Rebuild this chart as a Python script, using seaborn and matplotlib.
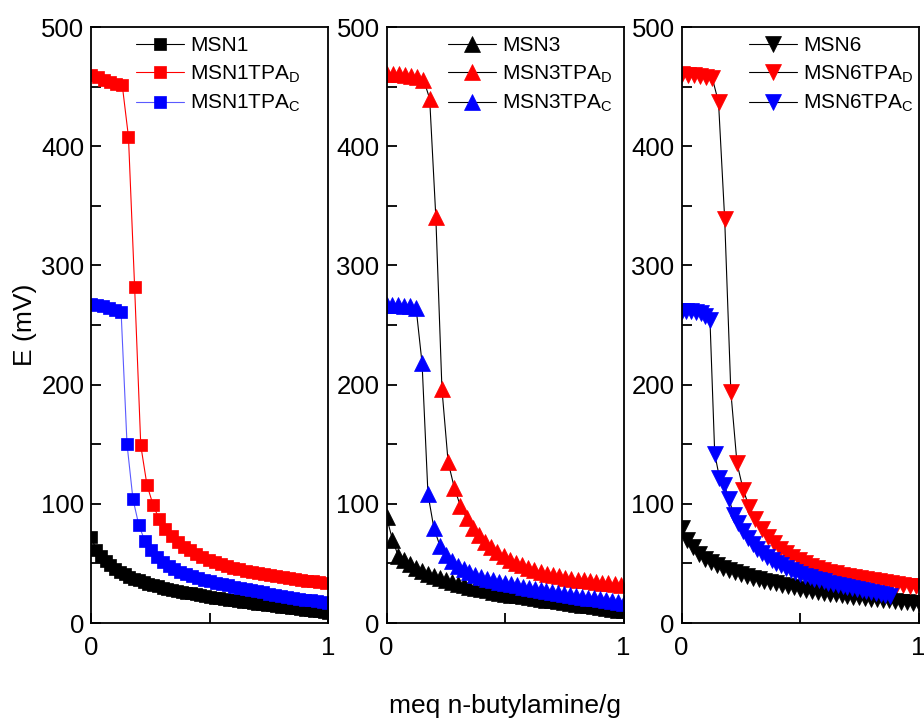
import matplotlib
matplotlib.use("Agg")
import matplotlib.pyplot as plt
from matplotlib.ticker import MultipleLocator
import seaborn as sns

# titrant added (meq n-butylamine/g) at the three increments used
X_020 = [0.00, 0.02, 0.04, 0.06, 0.08, 0.10, 0.12, 0.14, 0.16, 0.18,
         0.20, 0.22, 0.24, 0.26, 0.28, 0.30, 0.32, 0.34, 0.36, 0.38,
         0.40, 0.42, 0.44, 0.46, 0.48, 0.50, 0.52, 0.54, 0.56, 0.58,
         0.60, 0.62, 0.64, 0.66, 0.68, 0.70, 0.72, 0.74, 0.76, 0.78,
         0.80, 0.82, 0.84, 0.86, 0.88, 0.90, 0.92, 0.94, 0.96, 0.98, 1.00]
X_025 = [0.000, 0.025, 0.050, 0.075, 0.100, 0.125, 0.150, 0.175, 0.200, 0.225,
         0.250, 0.275, 0.300, 0.325, 0.350, 0.375, 0.400, 0.425, 0.450, 0.475,
         0.500, 0.525, 0.550, 0.575, 0.600, 0.625, 0.650, 0.675, 0.700, 0.725,
         0.750, 0.775, 0.800, 0.825, 0.850, 0.875, 0.900, 0.925, 0.950, 0.975, 1.000]
X_026 = [0.000, 0.026, 0.052, 0.078, 0.104, 0.130, 0.156, 0.182, 0.208, 0.234,
         0.260, 0.286, 0.312, 0.338, 0.364, 0.390, 0.416, 0.442, 0.468, 0.494,
         0.520, 0.546, 0.572, 0.598, 0.624, 0.650, 0.676, 0.702, 0.728, 0.754,
         0.780, 0.806, 0.832, 0.858, 0.884, 0.910, 0.936, 0.962, 0.988]

# potential E (mV)
MSN1 = [72, 61, 56, 52, 48.5, 45.5, 43, 41, 39, 37.3, 35.7, 34.3, 33, 31.8, 30.7,
        29.7, 28.8, 27.9, 27.1, 26.3, 25.5, 24.8, 24.1, 23.4, 22.7, 22, 21.4, 20.8,
        20.2, 19.6, 19, 18.4, 17.8, 17.3, 16.8, 16.3, 15.8, 15.3, 14.8, 14.3, 13.8,
        13.3, 12.8, 12.3, 11.8, 11.3, 10.8, 10.3, 9.8, 9.3, 8.8]
MSN1TPA_D = [460, 458, 456, 454, 452, 451, 408, 282, 149, 116, 99, 87, 79, 73, 68,
             64, 61, 58, 55.5, 53, 51, 49.5, 48, 46.5, 45.2, 44, 43, 42, 41, 40,
             39.2, 38.4, 37.6, 36.9, 36.2, 35.5, 34.9, 34.3, 33.7]
MSN1TPA_C = [268, 267, 266, 264, 263, 261, 150, 104, 82, 69, 61, 55, 51, 48, 45, 43,
             41, 39.2, 37.6, 36.2, 34.9, 33.7, 32.6, 31.5, 30.4, 29.4, 28.4, 27.4,
             26.5, 25.6, 24.7, 23.8, 22.9, 22.1, 21.3, 20.5, 19.7, 18.9, 18.1, 17.3, 16.6]

MSN3 = [89, 70, 56, 53, 49.5, 46.5, 44, 41.5, 39.5, 37.5, 36, 34.5, 33, 31.8, 30.6,
        29.5, 28.4, 27.4, 26.4, 25.5, 24.6, 23.9, 23.2, 22.5, 21.8, 21.1, 20.4, 19.7,
        19, 18.3, 17.6, 16.9, 16.2, 15.5, 14.8, 14.1, 13.4, 12.7, 12, 11.3, 10.6]
MSN3TPA_D = [461, 461, 461, 460, 459, 458, 456, 440, 341, 196, 135, 113.5, 98, 88, 80,
             73.5, 68, 63.5, 59.5, 56, 53, 50.5, 48.3, 46.3, 44.5, 42.9, 41.5, 40.2,
             39.1, 38.1, 37.2, 36.4, 35.7, 35, 34.4, 33.8, 33.3, 32.8, 32.3]
MSN3TPA_C = [267, 267, 267, 266, 266, 264, 218, 108, 79.5, 65, 57, 52, 48, 45, 42.5,
             40.5, 38.8, 37.3, 36, 34.8, 33.7, 32.6, 31.6, 30.6, 29.6, 28.7, 27.8,
             26.9, 26, 25.2, 24.4, 23.6, 22.8, 22, 21.3, 20.6, 19.9, 19.2, 18.5, 17.8, 17.1]

MSN6 = [80, 70, 64, 58, 54, 51, 48.5, 46.5, 44.5, 42.5, 41, 39.5, 38, 36.8, 35.6,
        34.4, 33.2, 32, 30.9, 29.8, 28.8, 27.9, 27, 26.2, 25.4, 24.7, 24, 23.3, 22.7,
        22.1, 21.5, 20.9, 20.4, 19.9, 19.4, 18.9, 18.4, 17.9, 17.4, 17, 16.6]
MSN6TPA_D = [461, 460, 460, 459, 458, 457, 437, 339, 194, 134, 112, 97, 87, 79, 72.5,
             67, 62.5, 58.5, 55.5, 52.5, 50, 48, 46.2, 44.6, 43.1, 41.8, 40.6, 39.5,
             38.5, 37.5, 36.6, 35.7, 34.9, 34.1, 33.4, 32.7, 32, 31.4, 30.8]
MSN6TPA_C = [262, 262, 262, 261, 260, 258, 254, 142, 122, 116, 104, 91, 84, 77, 71,
             66, 62, 58.5, 55.5, 53, 50.5, 48.3, 46.3, 44.5, 42.8, 41.2, 39.8, 38.5,
             37.3, 36.1, 35, 33.9, 32.9, 31.9, 31, 30.1, 29.2, 28.3, 27.5, 26.7, 25.9,
             25.1, 24.3, 23.5, 22.7]

PANELS = [
    # (marker, marker size, series: (label, x, y, colour, line colour), legend x)
    ("s", 8.5, [
        ("MSN1", X_020, MSN1, "black", "black"),
        ("MSN1TPA$_\\mathregular{D}$", X_026, MSN1TPA_D, "red", "red"),
        ("MSN1TPA$_\\mathregular{C}$", X_025, MSN1TPA_C, "blue", "#5a5aff"),
    ], 0.187),
    ("^", 12, [
        ("MSN3", X_025, MSN3, "black", "black"),
        ("MSN3TPA$_\\mathregular{D}$", X_026, MSN3TPA_D, "red", "black"),
        ("MSN3TPA$_\\mathregular{C}$", X_025, MSN3TPA_C, "blue", "black"),
    ], 0.258),
    ("v", 12, [
        ("MSN6", X_025, MSN6, "black", "black"),
        ("MSN6TPA$_\\mathregular{D}$", X_026, MSN6TPA_D, "red", "black"),
        ("MSN6TPA$_\\mathregular{C}$", X_020[:45], MSN6TPA_C, "blue", "black"),
    ], 0.284),
]

sns.set_style("ticks")
plt.rcParams["font.family"] = ["Liberation Sans", "DejaVu Sans"]
plt.rcParams["mathtext.default"] = "regular"
plt.rcParams.update({"text.color": "black", "axes.labelcolor": "black",
                     "xtick.color": "black", "ytick.color": "black",
                     "axes.edgecolor": "black"})

fig = plt.figure(figsize=(9.24, 7.18), dpi=100)
lefts = [0.099, 0.4183, 0.7376]

for i, (marker, msize, series, leg_x) in enumerate(PANELS):
    ax = fig.add_axes([lefts[i], 0.1323, 0.2565, 0.830])
    for label, xs, ys, colour, line_colour in series:
        sns.lineplot(x=xs, y=ys, ax=ax, color=line_colour, linewidth=0.8,
                     marker=marker, markersize=msize, markerfacecolor=colour,
                     markeredgecolor=colour, markeredgewidth=0.5,
                     estimator=None, sort=False, label=label)
    ax.set_xlim(0, 1)
    ax.set_ylim(0, 500)
    ax.xaxis.set_major_locator(MultipleLocator(1))
    ax.xaxis.set_minor_locator(MultipleLocator(0.5))
    ax.yaxis.set_major_locator(MultipleLocator(100))
    ax.yaxis.set_minor_locator(MultipleLocator(50))
    ax.tick_params(which="both", direction="in", length=7, width=1.3,
                   labelsize=18.5, top=False, right=False, colors="black")
    ax.tick_params(axis="x", pad=9)
    ax.tick_params(axis="y", pad=5)
    for spine in ax.spines.values():
        spine.set_linewidth(1.3)
        spine.set_visible(True)
    ax.legend(loc="upper left", bbox_to_anchor=(leg_x, 0.985), frameon=False,
              fontsize=15, handlelength=2.3, handletextpad=0.3,
              labelspacing=0.4, borderaxespad=0, borderpad=0)
    if i == 0:
        ax.set_ylabel("E (mV)", fontsize=19, labelpad=3)
    if i == 1:
        ax.set_xlabel("meq n-butylamine/g", fontsize=19, labelpad=25)

fig.savefig("out.png", dpi=100)
